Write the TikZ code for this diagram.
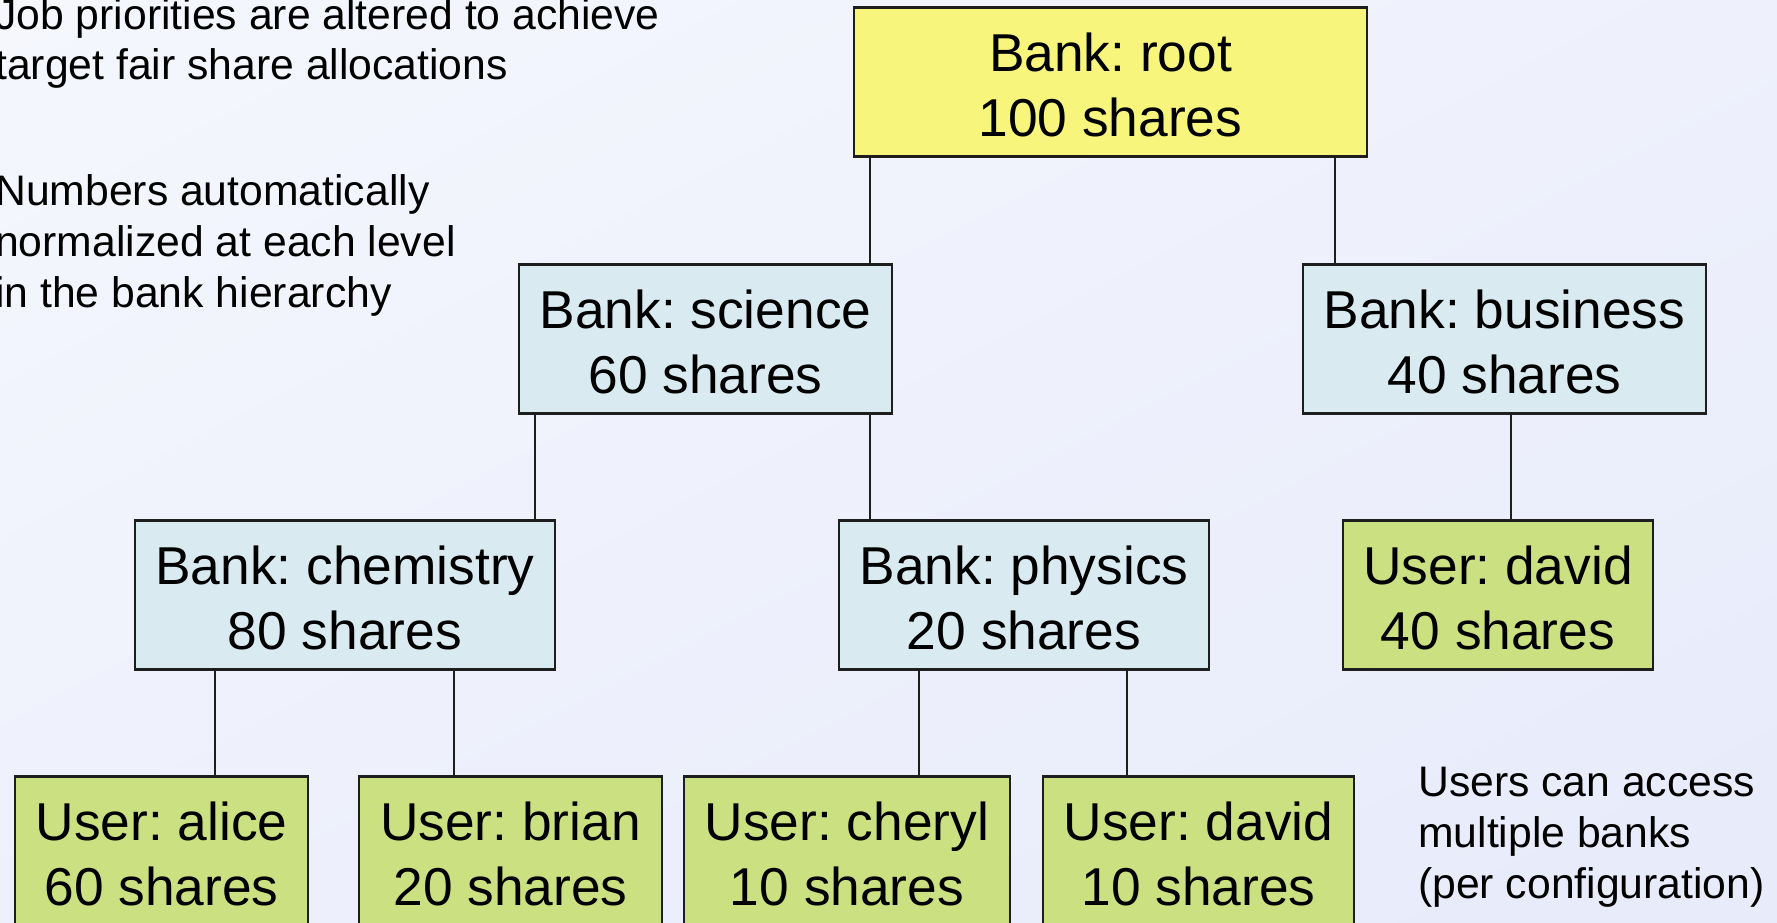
\documentclass[tikz,border=0pt]{standalone}
\usepackage{fontspec}
\setmainfont{Liberation Sans}
\usetikzlibrary{shadings}
\frenchspacing
\definecolor{bgtl}{HTML}{F5F7FD}
\definecolor{bgtr}{HTML}{EEF1FC}
\definecolor{bgbl}{HTML}{EEF1FC}
\definecolor{bgbr}{HTML}{E7EBFA}
\definecolor{rootfill}{HTML}{F7F57B}
\definecolor{bankfill}{HTML}{D9EBF1}
\definecolor{userfill}{HTML}{CBE080}
\definecolor{boxline}{HTML}{1E1E1E}
% taller first line pushes the two-line label a little lower in its box
\newcommand{\firstline}{\rule{0pt}{44pt}}
\begin{document}
\begin{tikzpicture}[x=1pt,y=-1pt,
  box/.style={draw=boxline, line width=2.2pt, inner sep=0pt, minimum height=149pt,
    align=center, font=\fontsize{53.3}{65}\selectfont},
  rootbox/.style={box, fill=rootfill},
  bankbox/.style={box, fill=bankfill},
  userbox/.style={box, fill=userfill},
  noteline/.style={anchor=base west, inner sep=0pt, font=\fontsize{42.7}{51}\selectfont},
  link/.style={draw=boxline, line width=2.2pt}]

% page background
\shade[upper left=bgtl, upper right=bgtr, lower left=bgbl, lower right=bgbr]
  (0,0) rectangle (1777,922);
\useasboundingbox (0,0) rectangle (1777,922);

% side notes
\node[noteline] (n1) at (-5,29) {Job priorities are altered to achieve};
\node[noteline] (n2) at (-5,79) {target fair share allocations};
\node[noteline] (n3) at (-5,205) {Numbers automatically};
\node[noteline] (n4) at (-5,256) {normalized at each level};
\node[noteline] (n5) at (-5,307) {in the bank hierarchy};
\node[noteline] (n6) at (1418,796) {Users can access};
\node[noteline] (n7) at (1418,847) {multiple banks};
\node[noteline] (n8) at (1418,898) {(per configuration)};

% hierarchy boxes
\node[rootbox, minimum width=513pt] (root) at (1110.5,82) {\firstline Bank: root\\100 shares};
\node[bankbox, minimum width=373pt] (science) at (705.5,339) {\firstline Bank: science\\60 shares};
\node[bankbox, minimum width=403pt] (business) at (1504.5,339) {\firstline Bank: business\\40 shares};
\node[bankbox, minimum width=420pt] (chemistry) at (345,595) {\firstline Bank: chemistry\\80 shares};
\node[bankbox, minimum width=370pt] (physics) at (1024,595) {\firstline Bank: physics\\20 shares};
\node[userbox, minimum width=310pt] (davidb) at (1498,595) {\firstline User: david\\40 shares};
\node[userbox, minimum width=293pt] (alice) at (161.5,851) {\firstline User: alice\\60 shares};
\node[userbox, minimum width=303pt] (brian) at (510.5,851) {\firstline User: brian\\20 shares};
\node[userbox, minimum width=326pt] (cheryl) at (847,851) {\firstline User: cheryl\\10 shares};
\node[userbox, minimum width=311pt] (davidp) at (1198.5,851) {\firstline User: david\\10 shares};

% x positions of the vertical links
\coordinate (xa) at (870,0);
\coordinate (xb) at (1335,0);
\coordinate (xc) at (535,0);
\coordinate (xd) at (1511,0);
\coordinate (xe) at (215,0);
\coordinate (xf) at (454,0);
\coordinate (xg) at (919,0);
\coordinate (xh) at (1127,0);

% links
\draw[link] (root.south -| xa) -- (science.north -| xa);
\draw[link] (root.south -| xb) -- (business.north -| xb);
\draw[link] (science.south -| xc) -- (chemistry.north -| xc);
\draw[link] (science.south -| xa) -- (physics.north -| xa);
\draw[link] (business.south -| xd) -- (davidb.north -| xd);
\draw[link] (chemistry.south -| xe) -- (alice.north -| xe);
\draw[link] (chemistry.south -| xf) -- (brian.north -| xf);
\draw[link] (physics.south -| xg) -- (cheryl.north -| xg);
\draw[link] (physics.south -| xh) -- (davidp.north -| xh);
\end{tikzpicture}
\end{document}
